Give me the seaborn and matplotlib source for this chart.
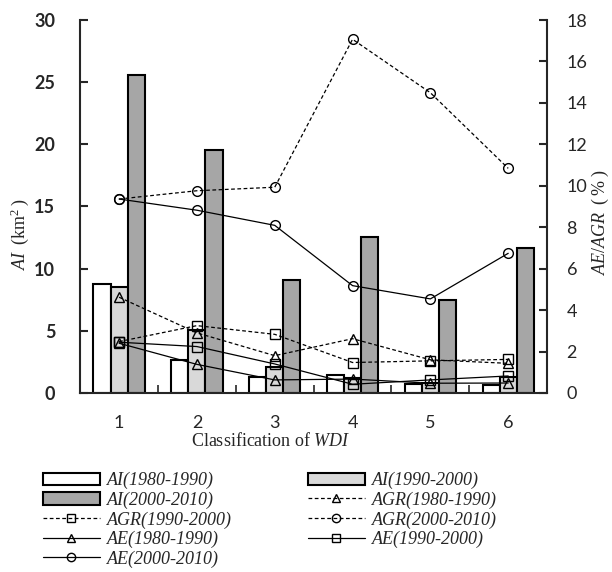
import matplotlib
matplotlib.use("Agg")
import matplotlib.pyplot as plt
from matplotlib.patches import Patch
from matplotlib.lines import Line2D
import numpy as np
import pandas as pd
import seaborn as sns

# WDI classes and periods
classes = ["1", "2", "3", "4", "5", "6"]
periods = ["1980-1990", "1990-2000", "2000-2010"]

# AI (km2), left axis
ai_80 = [8.8, 2.65, 1.25, 1.45, 0.7, 0.65]
ai_90 = [8.5, 5.05, 2.1, 1.2, 0.8, 1.25]
ai_00 = [25.55, 19.55, 9.1, 12.55, 7.45, 11.65]

# AGR / AE (%), right axis
agr_80 = [4.62, 2.9, 1.8, 2.62, 1.6, 1.43]
agr_90 = [2.48, 3.25, 2.83, 1.47, 1.55, 1.62]
agr_00 = [9.36, 9.76, 9.93, 17.07, 14.49, 10.84]
ae_80 = [2.4, 1.38, 0.63, 0.67, 0.47, 0.48]
ae_90 = [2.45, 2.24, 1.4, 0.42, 0.63, 0.82]
ae_00 = [9.36, 8.82, 8.09, 5.18, 4.54, 6.74]

bar_colors = ["#ffffff", "#d9d9d9", "#a6a6a6"]

sns.set_style("ticks")
plt.rcParams["font.family"] = ["Lato", "DejaVu Sans"]
plt.rcParams["mathtext.fontset"] = "custom"
plt.rcParams["mathtext.rm"] = "Liberation Serif"
plt.rcParams["mathtext.it"] = "Liberation Serif:italic"

fig = plt.figure(figsize=(6.12, 5.72), dpi=100)
ax = fig.add_axes([0.131, 0.313, 0.763, 0.652])

ai_df = pd.DataFrame({
    "cls": classes * 3,
    "period": np.repeat(periods, len(classes)),
    "AI": ai_80 + ai_90 + ai_00,
})
sns.barplot(
    data=ai_df, x="cls", y="AI", hue="period",
    order=classes, hue_order=periods,
    palette=bar_colors, saturation=1,
    edgecolor="black", linewidth=1.5,
    width=0.66, legend=False, ax=ax,
)

ax2 = ax.twinx()
xpos = np.arange(len(classes))
dash = (0, (3, 2))
series = [
    (agr_80, dash, "^"),
    (agr_90, dash, "s"),
    (agr_00, dash, "o"),
    (ae_80, "-", "^"),
    (ae_90, "-", "s"),
    (ae_00, "-", "o"),
]
for vals, ls, mk in series:
    sns.lineplot(
        x=xpos, y=vals, ax=ax2,
        color="black", linewidth=0.9, linestyle=ls,
        marker=mk, markersize=7, markerfacecolor="none",
        markeredgecolor="black", markeredgewidth=1.0,
    )

ax.set_xlim(-0.5, len(classes) - 0.5)
ax.set_ylim(0, 30)
ax.set_yticks(np.arange(0, 31, 5))
ax2.set_ylim(0, 18)
ax2.set_yticks(np.arange(0, 19, 2))

# spines
for s in ["top", "right"]:
    ax.spines[s].set_visible(False)
for s in ["top", "left", "bottom"]:
    ax2.spines[s].set_visible(False)
ax.spines["left"].set_linewidth(1.5)
ax.spines["bottom"].set_linewidth(1.5)
ax2.spines["right"].set_linewidth(1.5)

# ticks
ax.tick_params(axis="y", direction="in", length=6, width=1.5, pad=18, labelsize=13)
ax.tick_params(axis="x", which="major", length=0, pad=16, labelsize=13)
ax.set_xticks(np.arange(0.5, len(classes) - 1), minor=True)
ax.tick_params(axis="x", which="minor", direction="in", length=6, width=1.2)
ax2.tick_params(axis="y", direction="in", length=6, width=1.5, pad=14, labelsize=13)
for lbl in ax.get_yticklabels():
    lbl.set_fontweight("bold")
ax.set_ylabel("")
ax2.set_ylabel("")

# axis labels (rotated, anchored on their baseline)
fig.text(25 / 612, 1 - 234.5 / 572, r"$\mathit{AI}\;\;(\mathrm{km}^{2}\;)$",
         rotation=90, rotation_mode="anchor", ha="center", va="baseline",
         fontsize=13)
fig.text(605 / 612, 1 - 222 / 572, r"$\mathit{AE/AGR}\;\;(\;\mathrm{\%}\;)$",
         rotation=90, rotation_mode="anchor", ha="center", va="baseline",
         fontsize=13)

ax.set_xlabel(r"$\mathrm{Classification\ of\ }\mathit{WDI}$", fontsize=13)
ax.xaxis.set_label_coords(0.407, -0.103)

# legend
handles = [Patch(facecolor=c, edgecolor="black", linewidth=1.5) for c in bar_colors]
for vals, ls, mk in series:
    handles.append(Line2D([], [], color="black", linewidth=0.9, linestyle=ls,
                          marker=mk, markersize=6, markerfacecolor="none",
                          markeredgecolor="black", markeredgewidth=1.0))
labels = [f"AI({p})" for p in periods] + [f"AGR({p})" for p in periods] \
    + [f"AE({p})" for p in periods]
order = [0, 2, 4, 6, 8, 1, 3, 5, 7]
fig.legend(
    [handles[i] for i in order], [labels[i] for i in order],
    ncol=2, loc="upper left", bbox_to_anchor=(0.07, 0.175),
    frameon=False, prop={"family": "Liberation Serif", "style": "italic", "size": 13},
    handlelength=3.15, handletextpad=0.4, columnspacing=4.2,
    labelspacing=0.13, borderpad=0, borderaxespad=0, numpoints=1,
)

fig.savefig("out.png", dpi=100)
